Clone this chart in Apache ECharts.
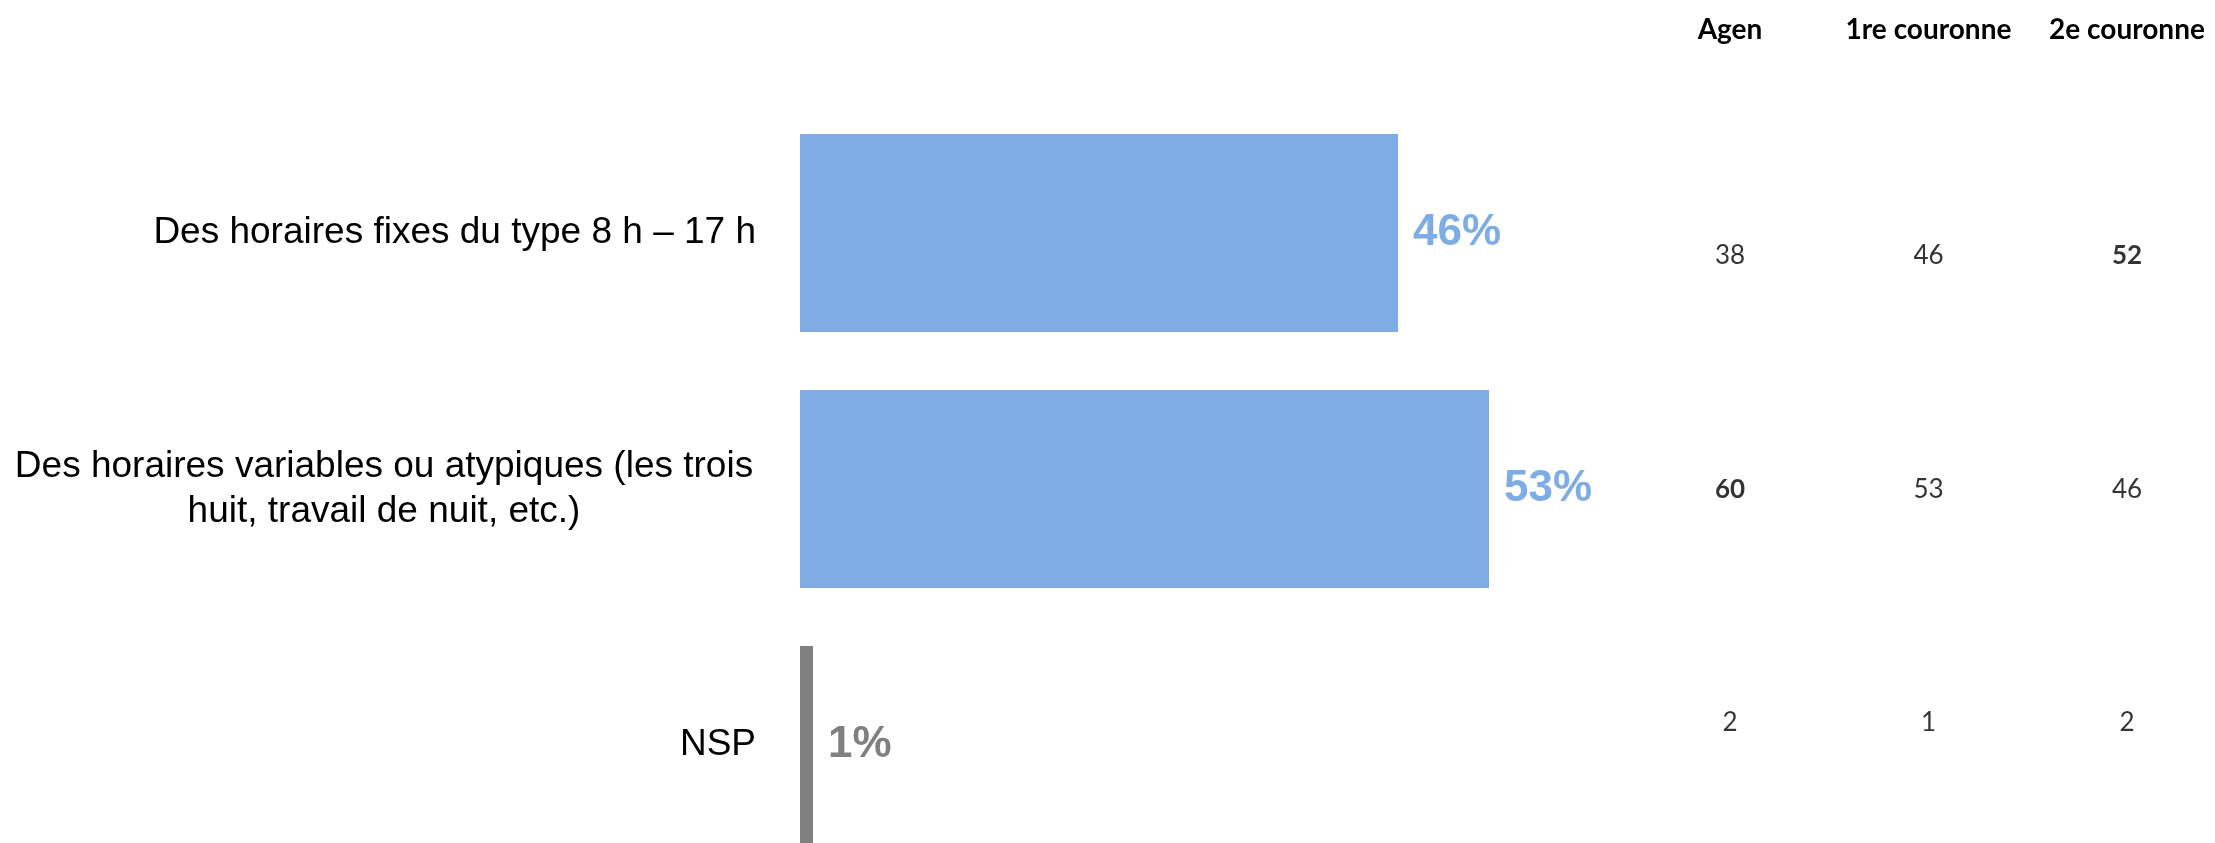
<!DOCTYPE html>
<html>
<head>
<meta charset="utf-8">
<script src="https://cdn.jsdelivr.net/npm/echarts@6/dist/echarts.min.js"></script>
<style>
  html, body { margin: 0; padding: 0; background: #fff; }
  #chart { width: 2215px; height: 843px; }
</style>
</head>
<body>
<div id="chart"></div>
<script>
// réponses (en %)
const categories = [
  'Des horaires fixes du type 8 h – 17 h',
  'Des horaires variables ou atypiques (les trois\nhuit, travail de nuit, etc.)',
  'NSP'
]
const values = [46, 53, 1]
const barColors = ['#7eade6', '#7eade6', '#808080']

// tableau par zone
const zones = ['Agen', '1re couronne', '2e couronne']
const agen = [38, 60, 2]
const premiereCouronne = [46, 53, 1]
const deuxiemeCouronne = [52, 46, 2]
// cellules en gras [colonne, ligne]
const boldCells = [[2, 0], [0, 1]]

const sans = '"Liberation Sans", Arial, sans-serif'

const chart = echarts.init(document.getElementById('chart'), null, { renderer: 'canvas' })

const tableColumns = [agen, premiereCouronne, deuxiemeCouronne]
const tableData = []
tableColumns.forEach((col, c) => {
  col.forEach((v, r) => {
    const isBold = boldCells.some(b => b[0] === c && b[1] === r)
    tableData.push({
      value: [c, r, v],
      label: { fontWeight: isBold ? 'bold' : 'normal' }
    })
  })
})

const option = {
  animation: false,
  backgroundColor: '#fff',
  grid: [
    { left: 800, top: 105, width: 1300, height: 768, outerBoundsMode: 'none', containLabel: false },
    { left: 1730, right: 88, top: 256, bottom: 120, outerBoundsMode: 'none', containLabel: false }
  ],
  xAxis: [
    { type: 'value', gridIndex: 0, min: 0, max: 100, show: false },
    {
      type: 'category',
      gridIndex: 1,
      data: zones,
      position: 'top',
      boundaryGap: false,
      axisLine: { show: false },
      axisTick: { show: false },
      splitLine: { show: false },
      axisLabel: {
        margin: 212,
        color: '#000',
        fontFamily: 'Lato, sans-serif',
        fontWeight: 'bold',
        fontSize: 28,
        interval: 0
      }
    }
  ],
  yAxis: [
    {
      type: 'category',
      gridIndex: 0,
      data: categories,
      inverse: true,
      axisLine: { show: false },
      axisTick: { show: false },
      axisLabel: {
        margin: 44,
        color: '#000',
        fontFamily: sans,
        fontSize: 37,
        lineHeight: 45,
        formatter: function (v) {
          if (v.indexOf('\n') >= 0) return '{c|' + v + '}'
          return v
        },
        rich: {
          c: {
            width: 744,
            align: 'center',
            overflow: 'none',
            color: '#000',
            fontFamily: sans,
            fontSize: 37,
            lineHeight: 45
          }
        }
      }
    },
    {
      type: 'category',
      gridIndex: 1,
      data: ['r1', 'r2', 'r3'],
      inverse: true,
      boundaryGap: false,
      show: false
    }
  ],
  series: [
    {
      type: 'bar',
      xAxisIndex: 0,
      yAxisIndex: 0,
      barWidth: 198,
      data: values.map((v, i) => ({
        value: v,
        itemStyle: { color: barColors[i] },
        label: { color: barColors[i] }
      })),
      label: {
        show: true,
        position: 'right',
        distance: 15,
        formatter: '{c}%',
        fontFamily: sans,
        fontWeight: 'bold',
        fontSize: 44
      }
    },
    {
      type: 'scatter',
      xAxisIndex: 1,
      yAxisIndex: 1,
      symbolSize: 0,
      data: tableData,
      label: {
        show: true,
        position: 'inside',
        color: '#000',
        fontFamily: 'Lato, sans-serif',
        fontSize: 26,
        formatter: p => p.value[2]
      }
    }
  ]
}

chart.setOption(option)
</script>
</body>
</html>
